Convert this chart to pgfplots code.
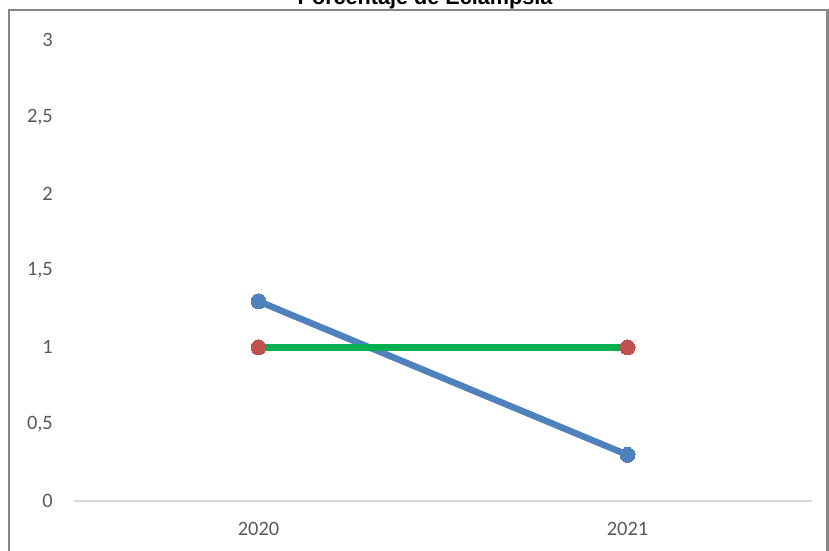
\documentclass[border=0pt]{standalone}
\usepackage{fontspec}
\setmainfont{Carlito}
\newfontfamily\titlefont{Liberation Sans}
\usepackage{pgfplots}
\pgfplotsset{compat=1.18}

\definecolor{serieblue}{HTML}{4F81BD}
\definecolor{seriegreen}{HTML}{00B050}
\definecolor{seriered}{HTML}{C0504D}
\definecolor{ticktext}{HTML}{595959}
\definecolor{baseline}{HTML}{D9D9D9}
\definecolor{frame}{HTML}{878787}

\begin{document}
\begin{tikzpicture}[x=1bp,y=1bp]
  \useasboundingbox (0,0) rectangle (829,551);
  \clip (0,0) rectangle (829,551);
  % chart frame
  \draw[frame, line width=2.2bp] (9,541) rectangle (827.5,-20);
  % title
  \node[anchor=base, inner sep=0pt, font=\titlefont\bfseries\fontsize{21.7}{24}\selectfont]
    at (425,546) {Porcentaje de Eclampsia};
  \begin{axis}[
    at={(74bp,50bp)}, anchor=south west,
    scale only axis, width=738bp, height=461bp,
    xmin=-0.5, xmax=1.5, ymin=0, ymax=3,
    xtick={0,1}, xticklabels={2020,2021},
    ytick={0,0.5,1,1.5,2,2.5,3},
    /pgf/number format/use comma,
    /pgf/number format/assume math mode=true,
    axis x line*=bottom, axis y line*=left,
    y axis line style={draw=none},
    x axis line style={draw=baseline, line width=1.4bp},
    major tick length=0pt,
    tick style={draw=none},
    tick label style={font=\fontsize{20.5}{24}\selectfont, text=ticktext},
    yticklabel style={anchor=east, inner sep=0pt, xshift=-21bp},
    xticklabel style={anchor=north, inner sep=0pt, yshift=-21bp},
    clip=false,
  ]
    \addplot[serieblue, line width=6.5bp, mark=*, mark size=7.5bp,
      mark options={fill=serieblue, draw=serieblue, line width=0pt}]
      coordinates {(0,1.3) (1,0.3)};
    \addplot[seriegreen, line width=6.5bp, mark=*, mark size=7.5bp,
      mark options={fill=seriered, draw=seriered, line width=0pt}]
      coordinates {(0,1) (1,1)};
  \end{axis}
\end{tikzpicture}
\end{document}
